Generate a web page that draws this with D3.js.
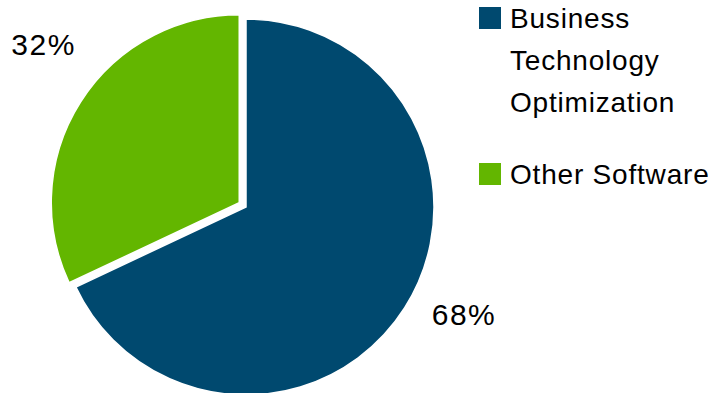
<!DOCTYPE html>
<html>
<head>
<meta charset="utf-8">
<script src="https://cdn.jsdelivr.net/npm/d3@7"></script>
<style>
  html, body { margin: 0; padding: 0; background: #fff; }
  svg { display: block; font-family: "Liberation Sans", Arial, sans-serif; }
</style>
</head>
<body>
<svg id="chart" width="715" height="393"></svg>
<script>
// Revenue split by segment
const categories = ["Business Technology Optimization", "Other Software"];
const legendLines = [["Business", "Technology", "Optimization"], ["Other Software"]];
const shares = [68, 32];
const colors = ["#00496F", "#63B600"];

const svg = d3.select("#chart");
const cx = 246, cy = 207, radius = 188;
const explode = [0, 8];            // slice pull-out distance
const labelRadius = 220;
const labelAngleShift = [0, 0.168]; // keeps the small slice label clear of the pie

const pie = d3.pie().sort(null).value(d => d).startAngle(0).endAngle(2 * Math.PI);
const arcs = pie(shares);
const arc = d3.arc().innerRadius(0).outerRadius(radius);

const g = svg.append("g").attr("transform", `translate(${cx},${cy})`);

const slices = g.selectAll("g.slice").data(arcs).join("g")
  .attr("class", "slice")
  .attr("transform", (d, i) => {
    const a = (d.startAngle + d.endAngle) / 2;
    return `translate(${Math.sin(a) * explode[i]},${-Math.cos(a) * explode[i]})`;
  });

slices.append("path")
  .attr("d", arc)
  .attr("fill", (d, i) => colors[i])
  .attr("stroke", "#fff")
  .attr("stroke-width", 1.5)
  .attr("stroke-linejoin", "miter");

slices.append("text")
  .attr("x", (d, i) => Math.sin((d.startAngle + d.endAngle) / 2 + labelAngleShift[i]) * labelRadius)
  .attr("y", (d, i) => -Math.cos((d.startAngle + d.endAngle) / 2 + labelAngleShift[i]) * labelRadius)
  .attr("text-anchor", d => ((d.startAngle + d.endAngle) / 2 < Math.PI ? "start" : "end"))
  .attr("font-size", 30)
  .attr("letter-spacing", 1.5)
  .attr("fill", "#000")
  .text(d => d.data + "%");

// Legend
const legend = svg.append("g").attr("transform", "translate(479,0)");
const legendTop = [7, 163];
const item = legend.selectAll("g.item").data(categories).join("g")
  .attr("class", "item")
  .attr("transform", (d, i) => `translate(0,${legendTop[i]})`);

item.append("rect")
  .attr("width", 22).attr("height", 22)
  .attr("fill", (d, i) => colors[i]);

item.append("text")
  .attr("x", 31)
  .attr("font-size", 28)
  .attr("letter-spacing", 0.8)
  .attr("fill", "#000")
  .selectAll("tspan")
  .data((d, i) => legendLines[i])
  .join("tspan")
  .attr("x", 31)
  .attr("y", (d, j) => 21 + j * 42)
  .text(d => d);
</script>
</body>
</html>
